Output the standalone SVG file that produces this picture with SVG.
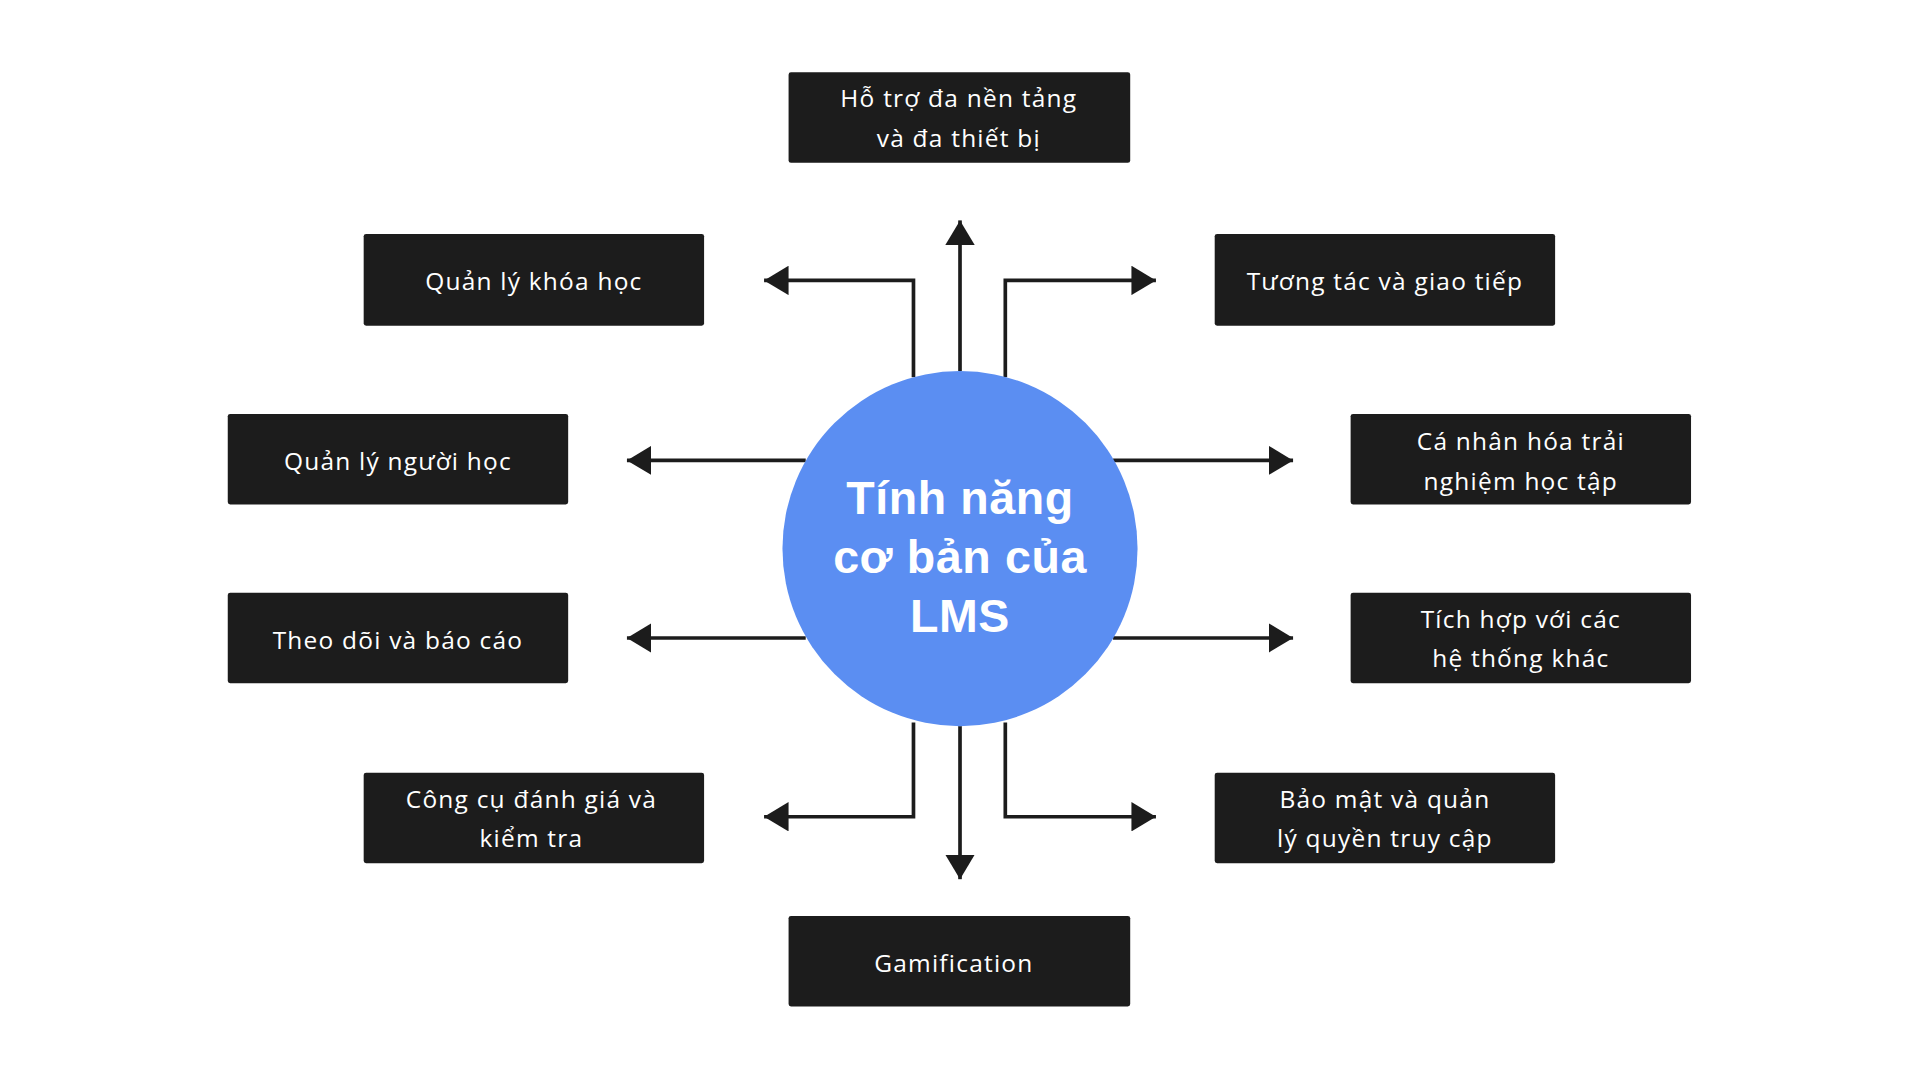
<svg xmlns="http://www.w3.org/2000/svg" width="1920" height="1080" viewBox="0 0 1920 1080">
<style>
.b{fill:#1c1c1c}
.t{fill:#fff;font-family:"Open Sans","Liberation Sans",sans-serif;font-size:20px;letter-spacing:1px;text-anchor:middle;dominant-baseline:central}
.c{fill:#fff;font-family:"Liberation Sans",Arial,sans-serif;font-size:38px;font-weight:bold;text-anchor:middle;dominant-baseline:central;letter-spacing:0.5px}
.l{fill:none;stroke:#1c1c1c;stroke-width:3;marker-end:url(#a)}
</style>
<defs>
<marker id="a" markerUnits="userSpaceOnUse" markerWidth="22" markerHeight="24" viewBox="0 0 22 24" refX="20" refY="12" orient="auto">
<path d="M0,0 L20,12 L0,24 Z" fill="#1c1c1c"/>
</marker>
</defs>
<rect width="1920" height="1080" fill="#fff"/>
<g transform="scale(1.2245)">
<g id="connectors">
<path class="l" d="M784,303 V180"/>
<path class="l" d="M784,593 V718"/>
<path class="l" d="M746,308 V229 H624"/>
<path class="l" d="M821,308 V229 H944"/>
<path class="l" d="M658,376 H512"/>
<path class="l" d="M909,376 H1056"/>
<path class="l" d="M658,521 H512"/>
<path class="l" d="M909,521 H1056"/>
<path class="l" d="M746,590 V667 H624"/>
<path class="l" d="M821,590 V667 H944"/>
</g>
<g id="center"><circle cx="784" cy="448" r="145" fill="#5b8ef2"/>
<text class="c" x="784" y="407">Tính năng</text><text class="c" x="784" y="455">cơ bản của</text><text class="c" x="784" y="503">LMS</text></g>
<g id="n1"><rect class="b" x="644" y="59" width="279" height="74" rx="2"/><text class="t" x="783" y="80">Hỗ trợ đa nền tảng</text><text class="t" x="783" y="112">và đa thiết bị</text></g>
<g id="n2"><rect class="b" x="297" y="191" width="278" height="75" rx="2"/><text class="t" x="436" y="229">Quản lý khóa học</text></g>
<g id="n3"><rect class="b" x="992" y="191" width="278" height="75" rx="2"/><text class="t" x="1131" y="229">Tương tác và giao tiếp</text></g>
<g id="n4"><rect class="b" x="186" y="338" width="278" height="74" rx="2"/><text class="t" x="325" y="376">Quản lý người học</text></g>
<g id="n5"><rect class="b" x="1103" y="338" width="278" height="74" rx="2"/><text class="t" x="1242" y="360">Cá nhân hóa trải</text><text class="t" x="1242" y="392">nghiệm học tập</text></g>
<g id="n6"><rect class="b" x="186" y="484" width="278" height="74" rx="2"/><text class="t" x="325" y="522">Theo dõi và báo cáo</text></g>
<g id="n7"><rect class="b" x="1103" y="484" width="278" height="74" rx="2"/><text class="t" x="1242" y="505">Tích hợp với các</text><text class="t" x="1242" y="537">hệ thống khác</text></g>
<g id="n8"><rect class="b" x="297" y="631" width="278" height="74" rx="2"/><text class="t" x="434" y="652">Công cụ đánh giá và</text><text class="t" x="434" y="684">kiểm tra</text></g>
<g id="n9"><rect class="b" x="992" y="631" width="278" height="74" rx="2"/><text class="t" x="1131" y="652">Bảo mật và quản</text><text class="t" x="1131" y="684">lý quyền truy cập</text></g>
<g id="n10"><rect class="b" x="644" y="748" width="279" height="74" rx="2"/><text class="t" x="779" y="786">Gamification</text></g>
</g>
</svg>
